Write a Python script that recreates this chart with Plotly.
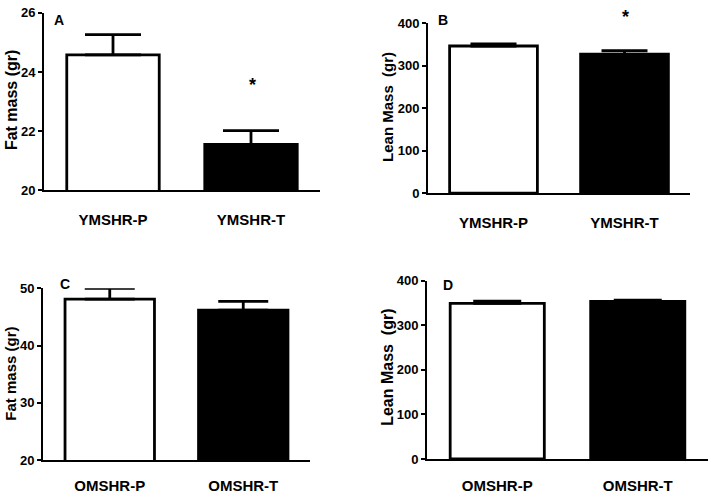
import plotly.graph_objects as go

groups_young = ["YMSHR-P", "YMSHR-T"]
groups_old = ["OMSHR-P", "OMSHR-T"]

fat_young = [24.58, 21.55]
fat_young_err = [0.68, 0.47]
lean_young = [347, 328]
lean_young_err = [5, 8]
fat_old = [48.1, 46.2]
fat_old_err = [1.9, 1.5]
lean_old = [349, 353]
lean_old_err = [5, 3]

bar_colors = ["white", "black"]
FONT = "Liberation Sans, Arial, sans-serif"

fig = go.Figure()

panels = [
    (groups_young, fat_young, fat_young_err, "", 28),
    (groups_young, lean_young, lean_young_err, "2", 23),
    (groups_old, fat_old, fat_old_err, "3", 25),
    (groups_old, lean_old, lean_old_err, "4", 24),
]

for cats, vals, errs, suf, capw in panels:
    fig.add_trace(go.Bar(
        x=cats, y=vals,
        xaxis="x" + suf, yaxis="y" + suf,
        marker=dict(color=bar_colors, line=dict(color="black", width=2.8)),
        width=0.67,
        error_y=dict(type="data", symmetric=False, array=errs,
                     arrayminus=[0, 0], color="black", thickness=2.8, width=capw),
        showlegend=False, hoverinfo="skip",
    ))

W, H = 709, 500
def dx(a, b):
    return [a / W, b / W]
def dy(top, bottom):
    return [1 - bottom / H, 1 - top / H]

def xax(domain, anchor, ticklen):
    return dict(domain=domain, anchor=anchor, showline=True, linecolor="black", linewidth=2,
                ticks="outside", ticklen=ticklen, tickcolor="rgba(0,0,0,0)",
                showgrid=False, zeroline=False, range=[-0.5, 1.5],
                tickfont=dict(family=FONT, size=15, color="black", weight="bold"),
                fixedrange=True)

ycommon = dict(showline=True, linecolor="black", linewidth=2, ticks="outside",
               ticklen=4, tickwidth=2, tickcolor="black", showgrid=False, zeroline=False,
               tickfont=dict(family=FONT, size=13, color="black", weight="bold"),
               fixedrange=True)

fig.update_layout(
    width=W, height=H,
    margin=dict(l=0, r=0, t=0, b=0),
    paper_bgcolor="white", plot_bgcolor="white",
    font=dict(family=FONT, color="black"),
    xaxis=xax(dx(44, 320), "y", 15),
    yaxis=dict(domain=dy(6, 189), anchor="x", range=[20, 26], tickvals=[20, 22, 24, 26], **ycommon),
    xaxis2=xax(dx(428, 690), "y2", 15),
    yaxis2=dict(domain=dy(17, 192), anchor="x2", range=[0, 400], tickvals=[0, 100, 200, 300, 400], **ycommon),
    xaxis3=xax(dx(43, 310), "y3", 11),
    yaxis3=dict(domain=dy(290, 467), anchor="x3", range=[20, 50], tickvals=[20, 30, 40, 50], **ycommon),
    xaxis4=xax(dx(427, 708), "y4", 12),
    yaxis4=dict(domain=dy(282, 466), anchor="x4", range=[0, 400], tickvals=[0, 100, 200, 300, 400], **ycommon),
)

def ann(text, x, y, size, angle=0):
    fig.add_annotation(text=text, xref="paper", yref="paper", x=x / W, y=1 - y / H,
                       showarrow=False, textangle=angle, xanchor="center", yanchor="middle",
                       font=dict(family=FONT, size=size, color="black", weight="bold"))

ann("A", 59, 13, 14)
ann("B", 443, 13, 14)
ann("C", 65, 286, 14)
ann("D", 448, 287, 14)
ann("*", 252, 80, 18)
ann("*", 625, 10, 18)
ann("Fat mass (gr)", 11, 96, 16, -90)
ann("Lean Mass  (gr)", 388, 103, 15, -90)
ann("Fat mass (gr)", 11, 378, 15, -90)
ann("Lean Mass  (gr)", 388, 372, 16, -90)

fig.write_html("out.html", config={"displayModeBar": False},
               post_script="document.body.style.margin='0';")
